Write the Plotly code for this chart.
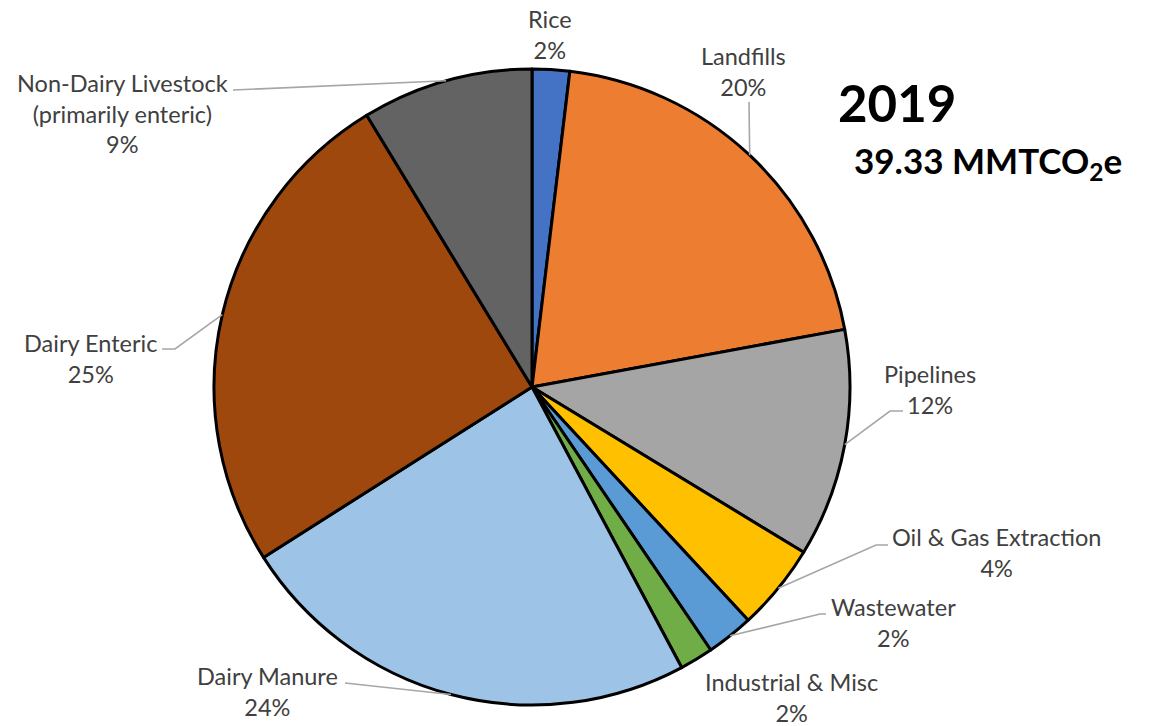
import math
import plotly.graph_objects as go

# ---- data ----
categories = ["Rice", "Landfills", "Pipelines", "Oil & Gas Extraction", "Wastewater",
              "Industrial & Misc", "Dairy Manure", "Dairy Enteric",
              "Non-Dairy Livestock<br>(primarily enteric)"]
shares = [1.9, 20.2, 11.6, 4.4, 2.4, 1.7, 23.8, 25.3, 8.7]   # percent of total
colors = ["#4472C4", "#ED7D31", "#A5A5A5", "#FFC000", "#5B9BD5",
          "#70AD47", "#9DC3E6", "#9E480E", "#636363"]
title_year = "2019"
title_total = "39.33 MMTCO<sub>2</sub>e"

# the page body adds an 8px offset; coordinates below are screen pixels
OFF = 8
W, H = 1152 - OFF, 726 - OFF
CX, CY, R = 532, 387, 318

# label placement (screen pixel centres) and leader-line anchor/elbow points
label_pos = [(550, 34), (743, 72), (930, 389), (996, 552), (893, 622),
             (791, 697), (267, 691), (90, 358), (122, 113)]
leader_pts = [None, [(749, 102)], [(903, 411), (890, 411)], [(888, 545), (876, 545)],
              [(826, 614), (820, 614)], None, [(345, 683)],
              [(162, 349), (175, 349)], [(233, 90)]]

FONT = "Lato, Carlito, Calibri, sans-serif"
TXT = "#404040"


def px(x):
    return (x - OFF) / W


def py(y):
    return 1 - (y - OFF) / H


fig = go.Figure()
fig.add_trace(go.Pie(
    labels=categories, values=shares, sort=False, direction="clockwise", rotation=0,
    marker=dict(colors=colors, line=dict(color="black", width=3)),
    textinfo="none", hoverinfo="label+percent", showlegend=False,
    domain=dict(x=[px(CX - R), px(CX + R)], y=[py(CY + R), py(CY - R)]),
))

total = sum(shares)
cum = 0.0
annotations = []
shapes = []
for i, (cat, v) in enumerate(zip(categories, shares)):
    mid = (cum + v / 2) / total * 2 * math.pi
    cum += v
    pct = round(v / total * 100)
    lx, ly = label_pos[i]
    annotations.append(dict(
        x=px(lx), y=py(ly), xref="paper", yref="paper", xanchor="center", yanchor="middle",
        text=f"{cat}<br>{pct}%", showarrow=False, align="center", borderpad=0,
        font=dict(family=FONT, size=23.5, color=TXT)))
    if leader_pts[i] is not None:
        ex = CX + R * math.sin(mid)
        ey = CY - R * math.cos(mid)
        pts = leader_pts[i] + [(ex, ey)]
        path = "M " + " L ".join(f"{px(a):.5f},{py(b):.5f}" for a, b in pts)
        shapes.append(dict(type="path", path=path, xref="paper", yref="paper",
                           line=dict(color="#A6A6A6", width=1.6)))

annotations.append(dict(x=px(836), y=py(102), xref="paper", yref="paper", xanchor="left",
                        yanchor="middle", text=f"<b>{title_year}</b>", showarrow=False,
                        font=dict(family=FONT, size=51, color="black")))
annotations.append(dict(x=px(852), y=py(162), xref="paper", yref="paper", xanchor="left",
                        yanchor="middle", text=f"<b>{title_total}</b>", showarrow=False,
                        font=dict(family=FONT, size=35, color="black")))

fig.update_layout(
    width=W, height=H, margin=dict(l=0, r=0, t=0, b=0),
    paper_bgcolor="white", plot_bgcolor="white",
    annotations=annotations, shapes=shapes,
)
fig.write_html("out.html")
